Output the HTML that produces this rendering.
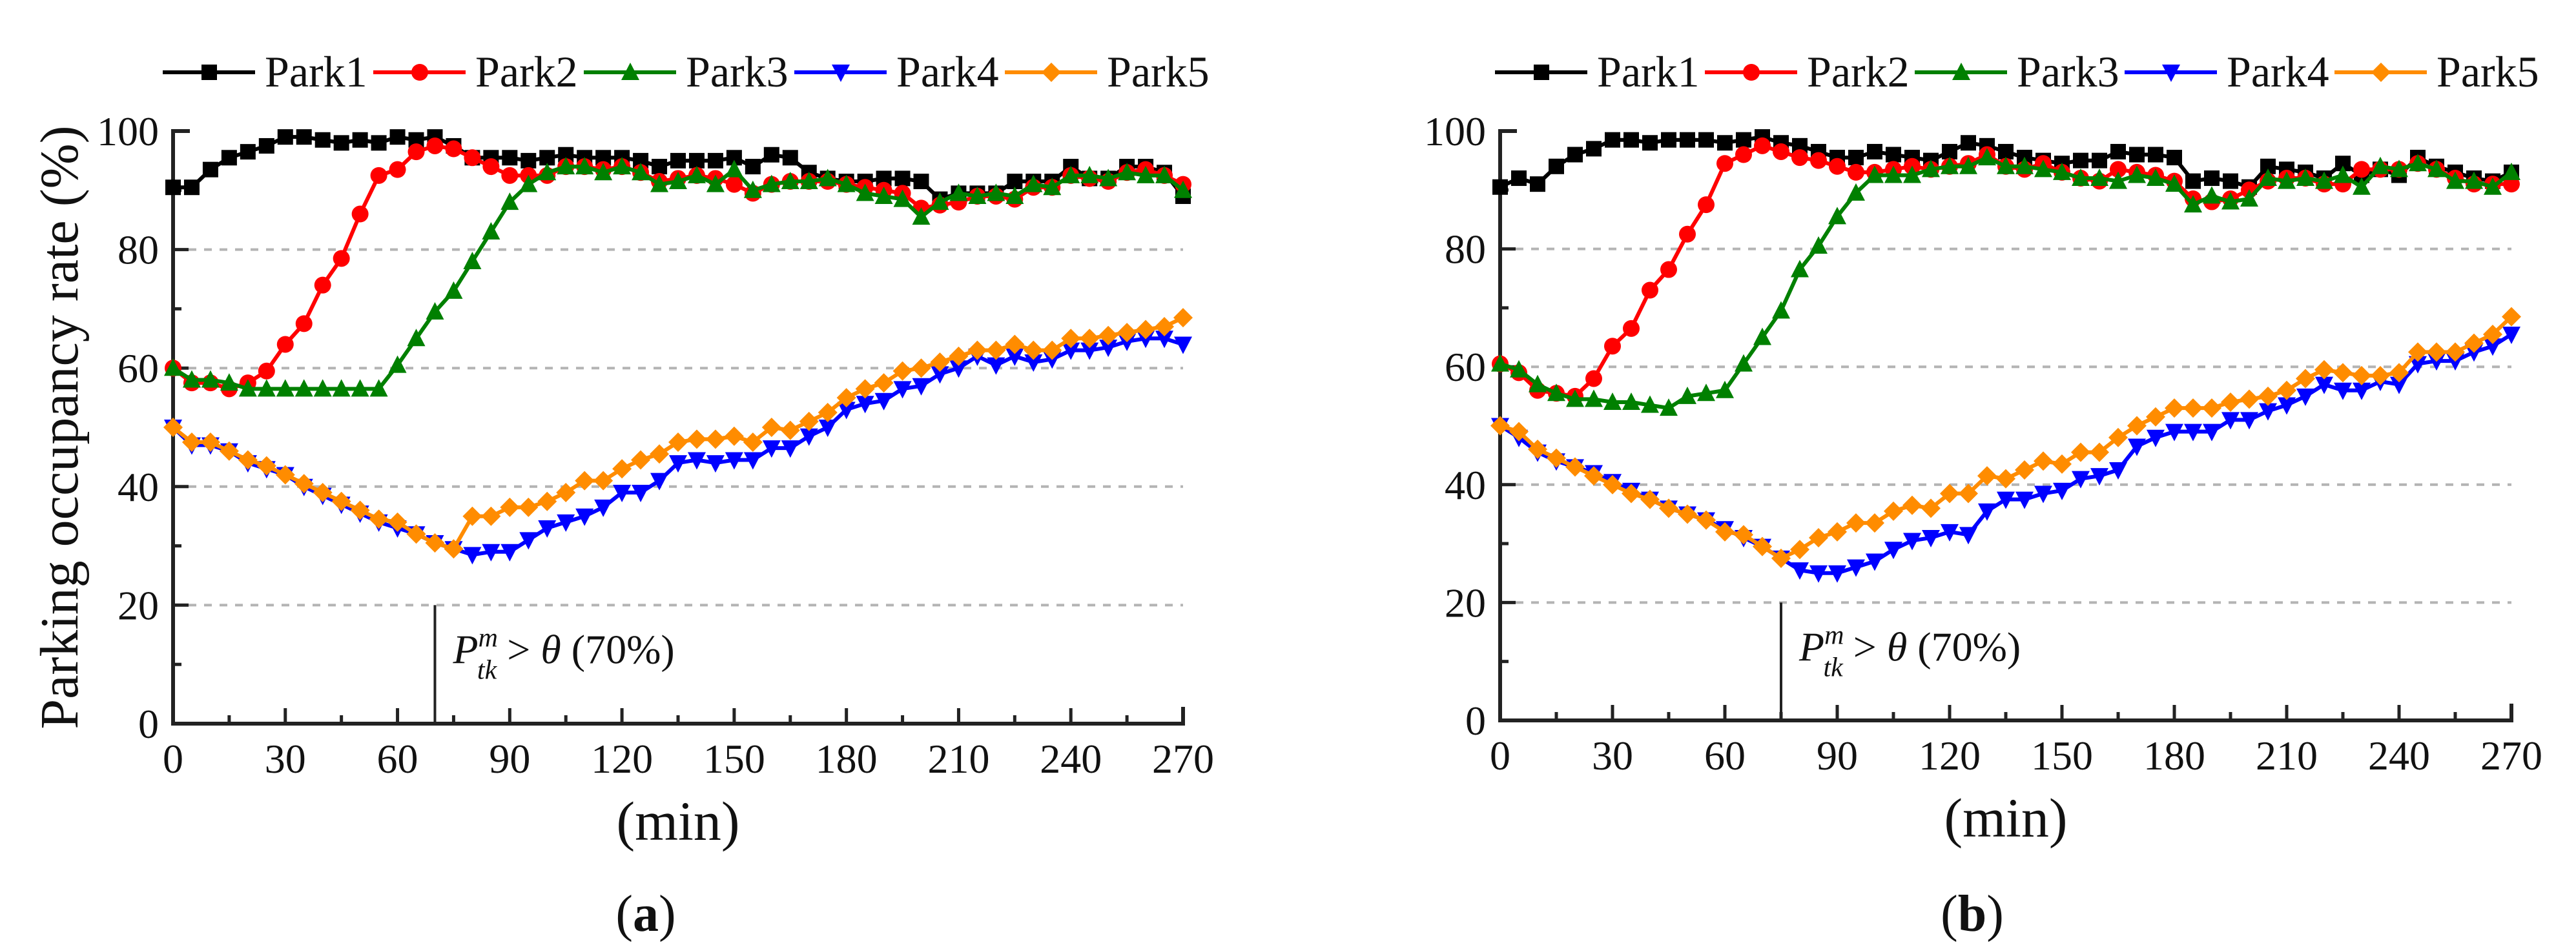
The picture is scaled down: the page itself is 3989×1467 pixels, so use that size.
<!DOCTYPE html>
<html><head><meta charset="utf-8"><style>
html,body{margin:0;padding:0;background:#fff;}
svg{display:block;}
svg text{font-family:"Liberation Serif","Times New Roman",serif;}
</style></head><body>
<svg id="fig" width="3989" height="1467" viewBox="0 0 3989 1467" xmlns="http://www.w3.org/2000/svg" font-family="Liberation Serif, serif"></svg>
<script>
const xTicks=[0,30,60,90,120,150,180,210,240,270];
const yTicks=[0,20,40,60,80,100];
const seriesNames=["Park1","Park2","Park3","Park4","Park5"];
const seriesColors=["#000000","#ff0000","#008000","#0000ff","#ff8c00"];
const markers=["square","circle","triangle","tri-down","diamond"];
const A1=[90.5,90.5,93.5,95.5,96.5,97.5,99,99,98.5,98,98.5,98,99,98.5,99,97.5,95.5,95.5,95.5,95,95.5,96,95.5,95.5,95.5,95,94,95,95,95,95.5,94,96,95.5,93,92,91.5,91.5,92,92,91.5,88.5,89.5,89.5,89.5,91.5,91.5,91.5,94,92,92,94,94,93,89];
const A2=[60,57.5,57.5,56.5,57.5,59.5,64,67.5,74,78.5,86,92.5,93.5,96.5,97.5,97,95.5,94,92.5,92.5,92.5,94,94,93.5,94,93,91.5,92,92.5,92,91,89.5,91,91.5,91.5,91.5,91,90.5,90,89.5,87,87.5,88,89,89,88.5,90.5,90.5,92.5,92,91.5,93,93.5,92.5,91];
const A3=[60,58,58,57.5,56.5,56.5,56.5,56.5,56.5,56.5,56.5,56.5,60.5,65,69.5,73,78,83,88,91,93,94,94,93,94,93,91,91.5,92.5,91,93.5,90,91,91.5,91.5,92,91,89.5,89,88.5,85.5,88,89.5,89,89.5,89,91,90.5,92.5,92.5,92,93,92.5,92.5,90];
const A4=[50,47,47,46,44,43,42,40,38.5,37,35.5,34,33,32,30.5,29.5,28.5,29,29,31,33,34,35,36.5,39,39,41,44,44.5,44,44.5,44.5,46.5,46.5,48.5,50,53,54,54.5,56.5,57,59,60,62,60.5,62,61,61.5,63,63,63.5,64.5,65,65,64];
const A5=[50,47.5,47.5,46,44.5,43.5,42,40.5,39,37.5,36,34.5,34,32,30.5,29.5,35,35,36.5,36.5,37.5,39,41,41,43,44.5,45.5,47.5,48,48,48.5,47.5,50,49.5,51,52.5,55,56.5,57.5,59.5,60,61,62,63,63,64,63,63,65,65,65.5,66,66.5,67,68.5];
const B1=[90.5,92,91,94,96,97,98.5,98.5,98,98.5,98.5,98.5,98,98.5,99,98,97.5,96.5,95.5,95.5,96.5,96,95.5,95,96.5,98,97.5,96.5,95.5,95,94.5,95,95,96.5,96,96,95.5,91.5,92,91.5,90.5,94,93.5,93,92,94.5,92.5,93.5,92.5,95.5,94,93,92,91.5,93];
const B2=[60.5,59,56,55.5,55,58,63.5,66.5,73,76.5,82.5,87.5,94.5,96,97.5,96.5,95.5,95,94,93,93,93.5,94,93.5,94,94.5,96,94,93.5,94.5,93,92,91.5,93.5,93,92.5,91.5,88.5,88,88.5,90,91.5,92,92,91,91,93.5,93.5,93.5,94.5,93.5,92,91,91,91];
const B3=[60.5,59.5,57,55.5,54.5,54.5,54,54,53.5,53,55,55.5,56,60.5,65,69.5,76.5,80.5,85.5,89.5,92.5,92.5,92.5,93.5,94,94,95.5,94,94,93.5,93,92,92,91.5,92.5,92,91,87.5,89,88,88.5,92,91.5,92,91.5,92.5,90.5,94,93.5,94.5,93.5,91.5,91.5,90.5,93];
const B4=[50,48,45.5,44,43,42,40.5,39,37.5,36,35,34,32.5,31,29.5,27.5,25.5,25,25,26,27,29,30.5,31,32,31.5,35.5,37.5,37.5,38.5,39,41,41.5,42.5,46.5,48,49,49,49,51,51,52.5,53.5,55,57,56,56,57.5,57,60.5,61,61,62.5,63.5,65.5];
const B5=[50,49,46,44.5,43,41.5,40,38.5,37.5,36,35,34,32,31.5,29.5,27.5,29,31,32,33.5,33.5,35.5,36.5,36,38.5,38.5,41.5,41,42.5,44,43.5,45.5,45.5,48,50,51.5,53,53,53,54,54.5,55,56,58,59.5,59,58.5,58.5,59,62.5,62.5,62.5,64,65.5,68.5];
const annotA=70, annotB=75;

const NS="http://www.w3.org/2000/svg";
const FONT='"Liberation Serif", serif';
const svg=document.getElementById('fig');
function mk(tag,attrs,parent){const e=document.createElementNS(NS,tag);for(const k in attrs)e.setAttribute(k,attrs[k]);if(tag==='text')e.setAttribute('font-family',FONT);(parent||svg).appendChild(e);return e;}

function panel(cfg){
  const g=mk('g',{});
  
  
  const X=v=>cfg.x0+(v/270)*(cfg.x1-cfg.x0);
  const Y=v=>cfg.y0-(v/100)*(cfg.y0-cfg.y1);
  [20,40,60,80].forEach(v=>{
    const l=mk('line',{x1:X(0),x2:X(270),y1:Y(v),y2:Y(v),stroke:'#b4b4b4','stroke-width':4,'stroke-dasharray':'12 12'},g);
    
    
  });
  const ax=mk('path',{d:`M${X(0)+26} ${Y(100)} H${X(0)} V${Y(0)} H${X(270)} V${Y(0)-26}`,fill:'none',stroke:'#222','stroke-width':6},g);
  
  
  for(let v=0;v<=270;v+=15){
    const len=v%30===0?24:13;
    mk('line',{x1:X(v),x2:X(v),y1:Y(0),y2:Y(0)-len,stroke:'#222','stroke-width':5},g);
  }
  for(let v=0;v<=100;v+=10){
    const len=v%20===0?24:13;
    mk('line',{x1:X(0),x2:X(0)+len,y1:Y(v),y2:Y(v),stroke:'#222','stroke-width':5},g);
  }
  xTicks.forEach(v=>{
    const t=mk('text',{x:X(v),y:Y(0)+76,'font-size':64,'text-anchor':'middle',fill:'#111'},g);
    t.textContent=v;
    
    
  });
  yTicks.forEach(v=>{
    const t=mk('text',{x:X(0)-22,y:Y(v)+22,'font-size':64,'text-anchor':'end',fill:'#111'},g);
    t.textContent=v;
    
    
  });
  const xt=mk('text',{x:(X(0)+X(270))/2,y:Y(0)+180,'font-size':86,'text-anchor':'middle',fill:'#111'},g);
  xt.textContent='(min)';
  
  
  const cap=mk('text',{x:cfg.capX,y:1442,'font-size':80,'text-anchor':'middle',fill:'#111'},g);
  cap.innerHTML=cfg.cap;
  
  
  if(cfg.ytitle){
    const yt=mk('text',{x:0,y:0,'font-size':84,'text-anchor':'middle',fill:'#111',transform:`translate(${cfg.x0-148},${(Y(0)+Y(100))/2}) rotate(-90)`},g);
    yt.textContent='Parking occupancy rate (%)';
    
    
  }
  const al=mk('line',{x1:X(cfg.annot),x2:X(cfg.annot),y1:Y(20),y2:Y(0),stroke:'#222','stroke-width':4},g);
  
  
  const at=mk('text',{x:X(cfg.annot)+28,y:Y(20)+90,'font-size':64,fill:'#111'},g);
  at.innerHTML='<tspan font-style="italic">P</tspan><tspan font-style="italic" font-size="42" dy="-26">m</tspan><tspan font-style="italic" font-size="42" dx="-32" dy="50">tk</tspan><tspan dy="-24"> &gt; </tspan><tspan font-style="italic">θ</tspan><tspan> (70%)</tspan>';
  
  
  cfg.data.forEach((arr,si)=>{
    const sg=mk('g',{},g);
    
    
    const pts=arr.map((v,i)=>[X(i*5),Y(v)]);
    mk('polyline',{points:pts.map(p=>p.join(',')).join(' '),fill:'none',stroke:seriesColors[si],'stroke-width':6,'stroke-linejoin':'round'},sg);
    pts.forEach(p=>{
      const m=marker(markers[si],p[0],p[1],seriesColors[si],sg);
      
      
    });
  });
  const lg=mk('g',{},g);
  
  
  seriesNames.forEach((n,i)=>{
    const lx=cfg.legX+i*cfg.legStep, ly=112;
    const eg=mk('g',{},lg);
    
    
    mk('line',{x1:lx,x2:lx+143,y1:ly,y2:ly,stroke:seriesColors[i],'stroke-width':6},eg);
    marker(markers[i],lx+72,ly,seriesColors[i],eg);
    const t=mk('text',{x:lx+158,y:ly+22,'font-size':68,fill:'#111'},eg);
    t.textContent=n;
  });
}
function marker(type,x,y,c,parent){
  const s=12;
  if(type==='square')return mk('rect',{x:x-s,y:y-s,width:2*s,height:2*s,fill:c},parent);
  if(type==='circle')return mk('circle',{cx:x,cy:y,r:s+1,fill:c},parent);
  if(type==='triangle')return mk('polygon',{points:`${x},${y-s-3} ${x+s+2},${y+s} ${x-s-2},${y+s}`,fill:c},parent);
  if(type==='tri-down')return mk('polygon',{points:`${x},${y+s+3} ${x+s+2},${y-s} ${x-s-2},${y-s}`,fill:c},parent);
  return mk('polygon',{points:`${x},${y-s-3} ${x+s+3},${y} ${x},${y+s+3} ${x-s-3},${y}`,fill:c},parent);
}
panel({id:'panel-a',x0:268,x1:1832,y0:1121,y1:203,data:[A1,A2,A3,A4,A5],annot:annotA,ytitle:true,cap:'(<tspan font-weight="bold">a</tspan>)',capX:1000,legX:252,legStep:326});
panel({id:'panel-b',x0:2323,x1:3889,y0:1116,y1:203,data:[B1,B2,B3,B4,B5],annot:annotB,ytitle:false,cap:'(<tspan font-weight="bold">b</tspan>)',capX:3054,legX:2315,legStep:325});
</script>
</body></html>
